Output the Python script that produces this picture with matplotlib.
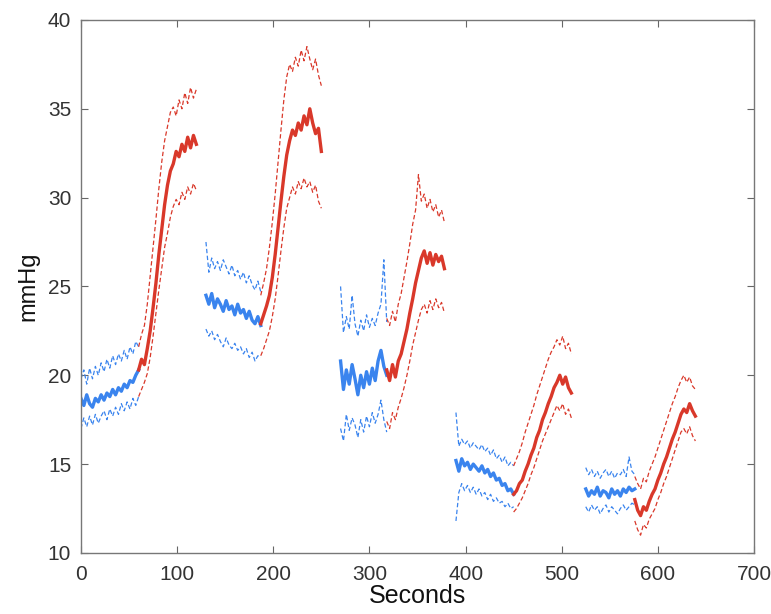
import numpy as np
import matplotlib
matplotlib.use('Agg')
import matplotlib.pyplot as plt

plt.rcParams['font.family'] = ['Liberation Sans', 'DejaVu Sans']

BLUE = '#3a84ee'
RED = '#d9382a'

# each segment: start second, centre line, upper dashed, lower dashed (3 s apart)
seg1_t0 = 0
seg1_mid = [18.7, 18.3, 18.9, 18.4, 18.2, 18.7, 18.5, 18.9, 18.6, 19.0, 18.8, 19.2, 18.9, 19.3, 19.1, 19.5, 19.3, 19.7, 19.6, 20.0, 20.3]
seg1_up = [19.8, 20.3, 19.5, 20.4, 19.8, 20.5, 20.0, 20.7, 20.2, 20.9, 20.4, 21.1, 20.6, 21.2, 20.8, 21.4, 20.9, 21.6, 21.2, 21.9, 21.6]
seg1_lo = [17.0, 17.6, 17.1, 17.7, 17.2, 17.8, 17.3, 17.7, 18.0, 17.5, 18.1, 17.7, 18.2, 17.8, 18.4, 18.0, 18.5, 18.1, 18.7, 18.3, 18.8]

seg2_t0 = 60
seg2_mid = [20.3, 20.9, 20.6, 21.5, 22.5, 23.8, 25.2, 26.8, 28.2, 29.6, 30.7, 31.5, 31.9, 32.6, 32.3, 33.0, 32.6, 33.4, 32.8, 33.5, 33.0]
seg2_up = [21.6, 22.3, 22.8, 24.0, 25.6, 27.2, 28.8, 30.5, 32.0, 33.2, 34.0, 34.8, 35.1, 34.6, 35.5, 35.0, 35.9, 35.3, 36.2, 35.6, 36.1]
seg2_lo = [18.8, 19.2, 19.6, 20.1, 21.0, 22.2, 23.5, 24.8, 26.0, 27.2, 28.0, 28.9, 29.5, 29.9, 29.6, 30.3, 29.9, 30.6, 30.2, 30.8, 30.4]

seg3_t0 = 130
seg3_mid = [24.5, 24.0, 24.6, 23.8, 24.3, 24.0, 23.6, 24.2, 23.7, 23.9, 23.4, 24.0, 23.5, 23.7, 23.2, 23.6, 23.1, 22.9, 23.3, 22.8]
seg3_up = [27.5, 25.8, 26.6, 26.0, 26.4, 25.9, 26.5, 26.1, 25.7, 26.2, 25.6, 25.9, 25.4, 25.8, 25.2, 25.6, 25.1, 24.8, 25.3, 24.7]
seg3_lo = [22.6, 22.2, 22.5, 22.0, 22.3, 21.9, 21.6, 22.1, 21.7, 21.5, 21.8, 21.4, 21.6, 21.2, 21.5, 21.0, 21.3, 20.8, 21.1, 21.0]

seg4_t0 = 187
seg4_mid = [22.9, 23.4, 23.9, 24.5, 25.5, 26.8, 28.3, 29.8, 31.2, 32.4, 33.2, 33.8, 33.5, 34.2, 33.8, 34.6, 34.1, 35.0, 34.2, 33.6, 33.9, 32.6]
seg4_up = [24.5, 25.2, 26.0, 27.2, 28.6, 30.2, 32.0, 33.8, 35.5, 36.8, 37.5, 37.1, 37.9, 37.4, 38.3, 37.7, 38.5, 37.8, 37.2, 37.8, 36.9, 36.3]
seg4_lo = [21.1, 21.5, 22.0, 22.5, 23.3, 24.3, 25.6, 27.0, 28.3, 29.4, 30.0, 30.6, 30.2, 30.9, 30.5, 31.1, 30.6, 30.9, 30.3, 30.7, 29.8, 29.4]

seg5_t0 = 270
seg5_mid = [20.8, 19.2, 20.3, 19.5, 20.6, 19.8, 18.9, 20.0, 19.3, 20.2, 19.5, 20.4, 19.7, 20.8, 21.4, 20.5, 20.0]
seg5_up = [25.0, 22.4, 23.3, 22.6, 24.5, 22.9, 22.2, 23.1, 22.5, 23.4, 22.7, 23.2, 22.8, 23.5, 24.0, 26.5, 23.0]
seg5_lo = [17.0, 16.3, 17.8, 16.9, 17.6, 17.2, 16.5, 17.5, 16.8, 17.7, 17.1, 17.9, 17.3, 17.8, 18.6, 17.5, 16.8]

seg6_t0 = 318
seg6_mid = [20.3, 19.7, 20.6, 19.9, 20.8, 21.2, 21.9, 22.6, 23.5, 24.3, 25.2, 25.9, 26.6, 27.0, 26.3, 26.9, 26.2, 26.8, 26.4, 26.7, 26.0]
seg6_up = [23.2, 22.8, 23.6, 23.0, 24.0, 24.6, 25.5, 26.4, 27.4, 28.5, 29.3, 31.3, 29.8, 30.2, 29.4, 29.9, 29.2, 29.6, 28.9, 29.3, 28.6]
seg6_lo = [17.4, 17.0, 17.9, 17.5, 18.2, 18.7, 19.3, 20.0, 20.8, 21.7, 22.4, 23.1, 23.7, 24.0, 23.5, 24.2, 23.7, 24.3, 23.8, 24.1, 23.5]

seg7_t0 = 390
seg7_mid = [15.2, 14.6, 15.3, 14.9, 15.1, 14.7, 15.0, 14.8, 14.6, 14.9, 14.5, 14.7, 14.3, 14.5, 14.1, 14.2, 13.8, 13.9, 13.5, 13.6, 13.3]
seg7_up = [17.9, 16.0, 16.4, 16.1, 16.3, 15.9, 16.2, 16.0, 15.8, 16.1, 15.7, 15.9, 15.5, 15.8, 15.3, 15.5, 15.1, 15.4, 14.9, 15.1, 14.9]
seg7_lo = [11.8, 13.4, 13.9, 13.5, 13.8, 13.4, 13.7, 13.3, 13.6, 13.2, 13.4, 13.0, 13.3, 12.9, 13.1, 12.8, 12.9, 12.6, 12.8, 12.5, 12.6]

seg8_t0 = 450
seg8_mid = [13.3, 13.5, 13.9, 14.1, 14.6, 15.0, 15.5, 15.9, 16.5, 16.9, 17.5, 17.9, 18.4, 18.8, 19.3, 19.6, 20.0, 19.5, 19.9, 19.3, 19.0]
seg8_up = [14.9, 15.3, 15.7, 16.2, 16.8, 17.3, 17.8, 18.3, 18.9, 19.4, 19.9, 20.4, 20.9, 21.3, 21.6, 22.0, 21.7, 22.2, 21.5, 21.8, 21.2]
seg8_lo = [12.3, 12.5, 12.8, 13.1, 13.5, 13.9, 14.4, 14.8, 15.3, 15.8, 16.3, 16.7, 17.1, 17.5, 17.9, 18.3, 18.0, 18.4, 17.8, 18.1, 17.6]

seg9_t0 = 525
seg9_mid = [13.6, 13.2, 13.5, 13.3, 13.7, 13.2, 13.5, 13.4, 13.1, 13.6, 13.3, 13.5, 13.2, 13.6, 13.4, 13.7, 13.5, 13.6]
seg9_up = [14.8, 14.4, 14.7, 14.3, 14.6, 14.2, 14.5, 14.7, 14.3, 14.6, 14.2, 14.5, 14.4, 14.7, 14.3, 15.4, 14.6, 14.4]
seg9_lo = [12.6, 12.3, 12.7, 12.4, 12.6, 12.2, 12.5, 12.7, 12.3, 12.6, 12.4, 12.2, 12.5, 12.7, 12.4, 12.6, 12.8, 12.7]

seg10_t0 = 576
seg10_mid = [13.0, 12.4, 12.1, 12.6, 12.4, 12.9, 13.3, 13.6, 14.1, 14.5, 15.0, 15.4, 15.9, 16.4, 16.8, 17.3, 17.8, 18.1, 17.9, 18.4, 18.0, 17.7]
seg10_up = [14.3, 13.9, 13.6, 14.2, 14.0, 14.6, 15.0, 15.4, 15.9, 16.4, 16.9, 17.4, 17.9, 18.4, 18.8, 19.3, 19.7, 20.0, 19.6, 19.9, 19.4, 19.2]
seg10_lo = [11.8, 11.3, 11.0, 11.6, 11.4, 11.9, 12.2, 12.5, 13.0, 13.4, 13.9, 14.3, 14.8, 15.3, 15.8, 16.3, 16.8, 17.0, 16.7, 17.1, 16.6, 16.3]

step = 3

segments = [
    (seg1_t0, seg1_mid, seg1_up, seg1_lo, BLUE),
    (seg2_t0, seg2_mid, seg2_up, seg2_lo, RED),
    (seg3_t0, seg3_mid, seg3_up, seg3_lo, BLUE),
    (seg4_t0, seg4_mid, seg4_up, seg4_lo, RED),
    (seg5_t0, seg5_mid, seg5_up, seg5_lo, BLUE),
    (seg6_t0, seg6_mid, seg6_up, seg6_lo, RED),
    (seg7_t0, seg7_mid, seg7_up, seg7_lo, BLUE),
    (seg8_t0, seg8_mid, seg8_up, seg8_lo, RED),
    (seg9_t0, seg9_mid, seg9_up, seg9_lo, BLUE),
    (seg10_t0, seg10_mid, seg10_up, seg10_lo, RED),
]

fig = plt.figure(figsize=(7.71, 6.14), dpi=100)
ax = fig.add_axes([0.105, 0.0995, 0.873, 0.868])

for t0, mid, up, lo, col in segments:
    t = t0 + step * np.arange(len(mid))
    ax.plot(t, up, color=col, linestyle=(0, (3.5, 2)), linewidth=0.9)
    ax.plot(t, lo, color=col, linestyle=(0, (3.5, 2)), linewidth=0.9)
    ax.plot(t, mid, color=col, linewidth=2.4)

ax.set_xlim(0, 700)
ax.set_ylim(10, 40)
ax.set_xticks(np.arange(0, 701, 100))
ax.set_yticks(np.arange(10, 41, 5))
ax.tick_params(direction='in', top=True, right=True, length=5, width=0.8,
               labelsize=15, colors='#666666', labelcolor='#333333')
ax.tick_params(axis='x', pad=9)
ax.tick_params(axis='y', pad=7)
for sp in ax.spines.values():
    sp.set_color('#777777')
    sp.set_linewidth(1.0)

ax.set_xlabel('Seconds', fontsize=18, color='#111111', labelpad=0)
ax.set_ylabel('mmHg', fontsize=17, color='#111111', labelpad=6)

fig.savefig('out.png', dpi=100)
